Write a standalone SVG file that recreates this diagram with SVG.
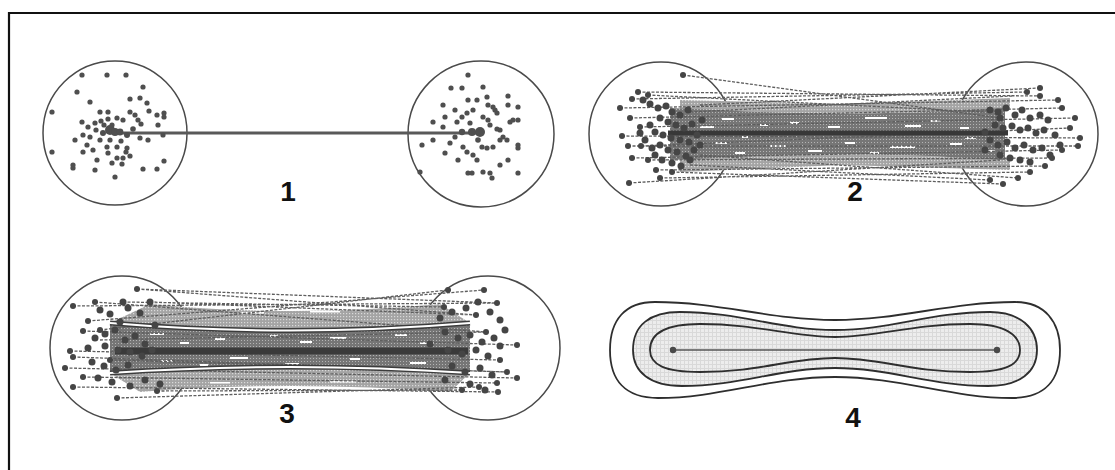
<svg xmlns="http://www.w3.org/2000/svg" width="1115" height="470" viewBox="0 0 1115 470">
<style>
.circ{fill:none;stroke:#4a4a4a;stroke-width:1.5}
.d1 circle{fill:#4f4f4f}
.fan{stroke:#5e5e5e;stroke-width:1.3;stroke-dasharray:3 1.5;fill:none}
.blob circle{fill:#454545}
.wd{fill:#ffffff}
.lbl{font-family:"Liberation Sans",Arial,sans-serif;font-weight:bold;font-size:28px;fill:#111;text-anchor:middle}
.cont{fill:none;stroke:#2e2e2e;stroke-width:1.8}
</style>
<defs>
<pattern id="scrDark" width="3" height="3" patternUnits="userSpaceOnUse"><rect width="3" height="3" fill="#767676"/><rect x="1" y="1" width="1" height="1" fill="#b4b4b4"/></pattern>
<pattern id="scrMid" width="3" height="3" patternUnits="userSpaceOnUse"><rect width="3" height="3" fill="#a4a4a4"/><rect x="1" y="1" width="1.2" height="1.2" fill="#dadada"/></pattern>
<pattern id="scrLight" width="4" height="4" patternUnits="userSpaceOnUse"><rect width="4" height="4" fill="#ededed"/><rect width="4" height="1" fill="#d9d9d9"/><rect width="1" height="4" fill="#d9d9d9"/></pattern>
</defs>
<rect width="1115" height="470" fill="#ffffff"/>
<path d="M9,470 V13 H1115" fill="none" stroke="#111" stroke-width="2.2"/>

<!-- Panel 1 -->
<g id="panel1">
<circle class="circ" cx="115" cy="133" r="72"/>
<circle class="circ" cx="481" cy="134" r="73"/>
<g id="connectors1"><line x1="122" y1="133" x2="478" y2="133" stroke="#595959" stroke-width="3"/></g>
<g class="d1">
<circle cx="82" cy="75" r="2.6"/><circle cx="107" cy="75" r="2.6"/><circle cx="126" cy="75" r="2.6"/><circle cx="77" cy="92" r="2.6"/><circle cx="143" cy="87" r="2.6"/><circle cx="90" cy="102" r="2.6"/><circle cx="52" cy="112" r="2.6"/><circle cx="130" cy="99" r="2.6"/><circle cx="140" cy="98" r="2.6"/><circle cx="147" cy="103" r="2.6"/><circle cx="149" cy="111" r="2.6"/><circle cx="157" cy="115" r="2.6"/><circle cx="164" cy="113" r="2.6"/><circle cx="164" cy="117" r="2.6"/><circle cx="100" cy="112" r="2.6"/><circle cx="108" cy="112" r="2.6"/><circle cx="130" cy="112" r="2.6"/><circle cx="82" cy="122" r="2.6"/><circle cx="88" cy="127" r="2.6"/><circle cx="95" cy="123" r="2.6"/><circle cx="101" cy="121" r="2.6"/><circle cx="108" cy="119" r="2.6"/><circle cx="117" cy="118" r="2.6"/><circle cx="123" cy="120" r="2.6"/><circle cx="138" cy="120" r="2.6"/><circle cx="141" cy="124" r="2.6"/><circle cx="158" cy="125" r="2.6"/><circle cx="110" cy="130" r="5"/><circle cx="115" cy="132" r="4"/><circle cx="120" cy="132" r="3.4"/><circle cx="127" cy="135" r="3"/><circle cx="140" cy="138" r="2.6"/><circle cx="148" cy="140" r="2.6"/><circle cx="163" cy="135" r="2.6"/><circle cx="75" cy="140" r="2.6"/><circle cx="83" cy="135" r="2.6"/><circle cx="90" cy="137" r="2.6"/><circle cx="100" cy="140" r="2.6"/><circle cx="107" cy="147" r="2.6"/><circle cx="117" cy="147" r="2.6"/><circle cx="127" cy="148" r="2.6"/><circle cx="52" cy="152" r="2.6"/><circle cx="83" cy="152" r="2.6"/><circle cx="93" cy="150" r="2.6"/><circle cx="97" cy="160" r="2.6"/><circle cx="108" cy="153" r="2.6"/><circle cx="117" cy="158" r="2.6"/><circle cx="123" cy="158" r="2.6"/><circle cx="130" cy="156" r="2.6"/><circle cx="73" cy="165" r="2.6"/><circle cx="73" cy="168" r="2.6"/><circle cx="95" cy="170" r="2.6"/><circle cx="115" cy="177" r="2.6"/><circle cx="143" cy="169" r="2.6"/><circle cx="157" cy="169" r="2.6"/><circle cx="164" cy="161" r="2.6"/><circle cx="110" cy="140" r="2.6"/><circle cx="112" cy="125" r="2.6"/><circle cx="103" cy="133" r="3"/><circle cx="96" cy="130" r="2.6"/><circle cx="121" cy="141" r="2.6"/><circle cx="133" cy="129" r="2.8"/><circle cx="135" cy="115" r="2.6"/><circle cx="112" cy="163" r="2.6"/><circle cx="122" cy="164" r="2.6"/><circle cx="87" cy="145" r="2.6"/><circle cx="126" cy="152" r="2.6"/><circle cx="104" cy="125" r="2.6"/>
<circle cx="468" cy="75" r="2.6"/><circle cx="451" cy="88" r="2.6"/><circle cx="462" cy="88" r="2.6"/><circle cx="483" cy="87" r="2.6"/><circle cx="468" cy="100" r="2.6"/><circle cx="477" cy="100" r="2.6"/><circle cx="487" cy="97" r="2.6"/><circle cx="508" cy="96" r="2.6"/><circle cx="508" cy="105" r="2.6"/><circle cx="518" cy="107" r="2.6"/><circle cx="443" cy="105" r="2.6"/><circle cx="488" cy="105" r="2.6"/><circle cx="493" cy="107" r="2.6"/><circle cx="497" cy="113" r="2.6"/><circle cx="495" cy="110" r="2.6"/><circle cx="473" cy="110" r="2.6"/><circle cx="467" cy="113" r="2.6"/><circle cx="462" cy="117" r="2.6"/><circle cx="457" cy="122" r="2.6"/><circle cx="445" cy="117" r="2.6"/><circle cx="433" cy="122" r="2.6"/><circle cx="443" cy="127" r="2.6"/><circle cx="483" cy="117" r="2.6"/><circle cx="488" cy="120" r="2.6"/><circle cx="500" cy="130" r="2.6"/><circle cx="503" cy="137" r="2.6"/><circle cx="510" cy="122" r="2.6"/><circle cx="518" cy="120" r="2.6"/><circle cx="513" cy="120" r="2.6"/><circle cx="462" cy="132" r="3.2"/><circle cx="472" cy="132" r="4"/><circle cx="480" cy="132" r="5"/><circle cx="422" cy="145" r="2.6"/><circle cx="433" cy="140" r="2.6"/><circle cx="450" cy="143" r="2.6"/><circle cx="463" cy="147" r="2.6"/><circle cx="467" cy="152" r="2.6"/><circle cx="473" cy="155" r="2.6"/><circle cx="482" cy="147" r="2.6"/><circle cx="487" cy="148" r="2.6"/><circle cx="493" cy="147" r="2.6"/><circle cx="500" cy="140" r="2.6"/><circle cx="507" cy="140" r="2.6"/><circle cx="518" cy="145" r="2.6"/><circle cx="518" cy="148" r="2.6"/><circle cx="445" cy="153" r="2.6"/><circle cx="477" cy="160" r="2.6"/><circle cx="508" cy="160" r="2.6"/><circle cx="500" cy="165" r="2.6"/><circle cx="468" cy="173" r="2.6"/><circle cx="472" cy="173" r="2.6"/><circle cx="483" cy="172" r="2.6"/><circle cx="490" cy="173" r="2.6"/><circle cx="492" cy="178" r="2.6"/><circle cx="518" cy="173" r="2.6"/><circle cx="420" cy="172" r="2.6"/><circle cx="497" cy="129" r="2.6"/><circle cx="455" cy="137" r="2.6"/><circle cx="478" cy="140" r="2.8"/><circle cx="490" cy="125" r="2.6"/><circle cx="458" cy="160" r="2.6"/><circle cx="470" cy="123" r="2.6"/><circle cx="455" cy="110" r="2.6"/>
</g>
<text class="lbl" x="288" y="201">1</text>
</g>

<!-- Panel 2 -->
<g id="panel2">
<circle class="circ" cx="661" cy="134" r="72"/>
<circle class="circ" cx="1026" cy="134" r="72"/>
<path d="M680,100 L843,104 L1010,98 L1010,110 L843,114 L680,110 Z" fill="url(#scrMid)"/>
<path d="M680,158 L843,154 L1010,158 L1010,170 L843,165 L680,172 Z" fill="url(#scrMid)"/>
<path d="M670,108 L760,112 L843,114 L930,112 L1005,108 L1005,160 L930,156 L843,154 L760,156 L670,160 Z" fill="url(#scrDark)"/>
<g class="wd">
<rect x="722" y="118" width="12" height="2"/><rect x="790" y="122" width="9" height="2"/><rect x="865" y="117" width="22" height="2"/><rect x="930" y="120" width="10" height="2"/><rect x="700" y="126" width="14" height="2"/><rect x="760" y="124" width="8" height="2"/><rect x="828" y="126" width="12" height="2"/><rect x="905" y="125" width="16" height="2"/><rect x="960" y="127" width="9" height="2"/><rect x="715" y="142" width="12" height="2"/><rect x="770" y="145" width="16" height="2"/><rect x="845" y="142" width="10" height="2"/><rect x="890" y="146" width="25" height="2"/><rect x="950" y="143" width="12" height="2"/><rect x="735" y="152" width="10" height="2"/><rect x="808" y="150" width="14" height="2"/><rect x="870" y="152" width="9" height="2"/><rect x="985" y="150" width="10" height="2"/><rect x="742" y="136" width="6" height="2"/><rect x="965" y="137" width="11" height="2"/>
</g>
<g id="connectors2">
<path class="fan" d="M683,75 L1000,118 M638,92 L1040,96 M632,99 L1027,92 M648,95 L985,112 M630,118 L1062,108 M640,127 L1075,118 M620,108 L1058,100 M622,136 L1080,138 M628,146 L1078,146 M641,146 L1070,128 M632,158 L1062,150 M648,160 L1052,158 M656,170 L1045,166 M629,183 L1000,160 M660,178 L1030,172 M672,172 L1003,184 M690,165 L990,180 M700,105 L1040,88 M690,112 L1012,96 M700,155 L1018,178"/>
<line x1="668" y1="133" x2="1008" y2="133" stroke="#383838" stroke-width="5"/>
</g>
<g class="blob">
<circle cx="683" cy="75" r="3"/><circle cx="638" cy="92" r="3"/><circle cx="632" cy="99" r="3"/><circle cx="648" cy="95" r="3"/><circle cx="630" cy="118" r="3"/><circle cx="640" cy="127" r="3"/><circle cx="620" cy="108" r="3"/><circle cx="622" cy="136" r="3"/><circle cx="628" cy="146" r="3"/><circle cx="641" cy="146" r="3"/><circle cx="632" cy="158" r="3"/><circle cx="648" cy="160" r="3"/><circle cx="656" cy="170" r="3"/><circle cx="629" cy="183" r="3"/><circle cx="660" cy="178" r="3"/><circle cx="672" cy="172" r="3"/>
<circle cx="1040" cy="96" r="3"/><circle cx="1027" cy="92" r="3"/><circle cx="1062" cy="108" r="3"/><circle cx="1075" cy="118" r="3"/><circle cx="1058" cy="100" r="3"/><circle cx="1080" cy="138" r="3"/><circle cx="1078" cy="146" r="3"/><circle cx="1070" cy="128" r="3"/><circle cx="1062" cy="150" r="3"/><circle cx="1052" cy="158" r="3"/><circle cx="1045" cy="166" r="3"/><circle cx="1030" cy="172" r="3"/><circle cx="1003" cy="184" r="3"/><circle cx="990" cy="180" r="3"/><circle cx="1040" cy="88" r="3"/><circle cx="1018" cy="178" r="3"/>
<circle cx="643" cy="100" r="3.5"/><circle cx="650" cy="104" r="3.5"/><circle cx="658" cy="108" r="3.5"/><circle cx="666" cy="106" r="3.5"/><circle cx="672" cy="112" r="3.5"/><circle cx="680" cy="115" r="3.5"/><circle cx="688" cy="110" r="3.5"/><circle cx="660" cy="118" r="3.5"/><circle cx="668" cy="122" r="3.5"/><circle cx="676" cy="125" r="3.5"/><circle cx="684" cy="128" r="3.5"/><circle cx="692" cy="124" r="3.5"/><circle cx="650" cy="125" r="3.5"/><circle cx="655" cy="132" r="3.5"/><circle cx="663" cy="135" r="3.5"/><circle cx="671" cy="138" r="3.5"/><circle cx="680" cy="140" r="3.5"/><circle cx="689" cy="142" r="3.5"/><circle cx="697" cy="135" r="3.5"/><circle cx="645" cy="140" r="3.5"/><circle cx="652" cy="148" r="3.5"/><circle cx="660" cy="145" r="3.5"/><circle cx="668" cy="150" r="3.5"/><circle cx="677" cy="152" r="3.5"/><circle cx="686" cy="156" r="3.5"/><circle cx="694" cy="150" r="3.5"/><circle cx="662" cy="160" r="3.5"/><circle cx="672" cy="163" r="3.5"/><circle cx="681" cy="166" r="3.5"/><circle cx="655" cy="155" r="3.5"/><circle cx="640" cy="133" r="3.5"/><circle cx="700" cy="145" r="3.5"/><circle cx="702" cy="120" r="3.5"/><circle cx="690" cy="160" r="3.5"/>
<circle cx="990" cy="110" r="3.5"/><circle cx="998" cy="112" r="3.5"/><circle cx="1006" cy="108" r="3.5"/><circle cx="1015" cy="115" r="3.5"/><circle cx="1022" cy="110" r="3.5"/><circle cx="1030" cy="118" r="3.5"/><circle cx="1040" cy="115" r="3.5"/><circle cx="1048" cy="120" r="3.5"/><circle cx="995" cy="125" r="3.5"/><circle cx="1003" cy="128" r="3.5"/><circle cx="1012" cy="126" r="3.5"/><circle cx="1020" cy="130" r="3.5"/><circle cx="1028" cy="128" r="3.5"/><circle cx="1036" cy="133" r="3.5"/><circle cx="1044" cy="130" r="3.5"/><circle cx="990" cy="140" r="3.5"/><circle cx="998" cy="145" r="3.5"/><circle cx="1007" cy="142" r="3.5"/><circle cx="1015" cy="148" r="3.5"/><circle cx="1024" cy="145" r="3.5"/><circle cx="1033" cy="150" r="3.5"/><circle cx="1042" cy="148" r="3.5"/><circle cx="1050" cy="155" r="3.5"/><circle cx="1000" cy="155" r="3.5"/><circle cx="1010" cy="158" r="3.5"/><circle cx="1020" cy="160" r="3.5"/><circle cx="1030" cy="162" r="3.5"/><circle cx="985" cy="150" r="3.5"/><circle cx="1055" cy="135" r="3.5"/><circle cx="1060" cy="145" r="3.5"/><circle cx="1000" cy="118" r="3.5"/><circle cx="985" cy="132" r="3.5"/>
</g>
<text class="lbl" x="855" y="201">2</text>
</g>

<!-- Panel 3 -->
<g id="panel3">
<circle class="circ" cx="122" cy="348" r="72"/>
<circle class="circ" cx="488" cy="348" r="72"/>
<path d="M150,304 Q290,318 440,304 L470,323 Q290,338 110,323 Z" fill="url(#scrMid)"/>
<path d="M110,373 Q290,361 470,373 L450,392 Q290,380 140,392 Z" fill="url(#scrMid)"/>
<path d="M110,323 Q290,338 470,323 L470,373 Q290,361 110,373 Z" fill="url(#scrDark)"/>
<g class="wd">
<rect x="150" y="333" width="14" height="2"/><rect x="215" y="338" width="10" height="2"/><rect x="270" y="335" width="8" height="2"/><rect x="330" y="337" width="16" height="2"/><rect x="395" y="334" width="12" height="2"/><rect x="180" y="342" width="9" height="2"/><rect x="300" y="341" width="12" height="2"/><rect x="420" y="342" width="14" height="2"/><rect x="160" y="360" width="12" height="2"/><rect x="230" y="357" width="18" height="2"/><rect x="350" y="358" width="10" height="2"/><rect x="410" y="362" width="16" height="2"/><rect x="200" y="364" width="8" height="2"/><rect x="285" y="363" width="14" height="2"/><rect x="240" y="312" width="24" height="1.5"/><rect x="310" y="311" width="30" height="1.5"/><rect x="210" y="382" width="20" height="1.5"/><rect x="330" y="381" width="26" height="1.5"/>
</g>
<g id="connectors3">
<path class="fan" d="M137,289 L476,315 M73,306 L497,303 M95,302 L486,332 M123,302 L444,307 M88,321 L484,290 M100,330 L448,290 M83,331 L517,345 M70,351 L500,360 M73,357 L507,372 M65,368 L517,378 M83,377 L497,383 M73,387 L498,392 M117,398 L479,387 M157,391 L462,390 M150,302 L476,315 M137,289 L497,303 M100,340 L486,332 M110,360 L507,372"/>
<line x1="115" y1="351" x2="468" y2="351" stroke="#3a3a3a" stroke-width="7"/>
<path d="M110,323 Q290,338 470,323 M110,373 Q290,361 470,373" fill="none" stroke="#3c3c3c" stroke-width="5"/>
<path d="M110,323 Q290,338 470,323 M110,373 Q290,361 470,373" fill="none" stroke="#ffffff" stroke-width="2"/>
</g>
<g class="blob">
<circle cx="137" cy="289" r="3"/><circle cx="73" cy="306" r="3"/><circle cx="95" cy="302" r="3"/><circle cx="123" cy="302" r="3.5"/><circle cx="150" cy="302" r="3.5"/><circle cx="88" cy="321" r="3"/><circle cx="83" cy="331" r="3"/><circle cx="70" cy="351" r="3"/><circle cx="73" cy="357" r="3"/><circle cx="65" cy="368" r="3"/><circle cx="83" cy="377" r="3"/><circle cx="73" cy="387" r="3"/><circle cx="117" cy="398" r="3"/><circle cx="157" cy="391" r="3"/><circle cx="100" cy="330" r="3"/><circle cx="110" cy="360" r="3"/>
<circle cx="448" cy="290" r="3"/><circle cx="484" cy="290" r="3"/><circle cx="497" cy="303" r="3"/><circle cx="444" cy="307" r="3"/><circle cx="476" cy="315" r="3"/><circle cx="486" cy="332" r="3"/><circle cx="517" cy="345" r="3"/><circle cx="500" cy="360" r="3"/><circle cx="507" cy="372" r="3"/><circle cx="517" cy="378" r="3"/><circle cx="497" cy="383" r="3"/><circle cx="498" cy="392" r="3"/><circle cx="479" cy="387" r="3"/><circle cx="462" cy="390" r="3"/>
<circle cx="100" cy="310" r="3.5"/><circle cx="110" cy="314" r="3.5"/><circle cx="128" cy="308" r="3.5"/><circle cx="140" cy="313" r="3.5"/><circle cx="95" cy="338" r="3.5"/><circle cx="105" cy="334" r="3.5"/><circle cx="115" cy="330" r="3.5"/><circle cx="125" cy="340" r="3.5"/><circle cx="135" cy="336" r="3.5"/><circle cx="145" cy="344" r="3.5"/><circle cx="105" cy="346" r="3.5"/><circle cx="118" cy="350" r="3.5"/><circle cx="130" cy="352" r="3.5"/><circle cx="142" cy="356" r="3.5"/><circle cx="152" cy="350" r="3.5"/><circle cx="92" cy="362" r="3.5"/><circle cx="104" cy="366" r="3.5"/><circle cx="116" cy="370" r="3.5"/><circle cx="128" cy="365" r="3.5"/><circle cx="98" cy="378" r="3.5"/><circle cx="112" cy="382" r="3.5"/><circle cx="130" cy="386" r="3.5"/><circle cx="145" cy="380" r="3.5"/><circle cx="160" cy="384" r="3.5"/><circle cx="88" cy="348" r="3.5"/><circle cx="120" cy="322" r="3.5"/><circle cx="155" cy="325" r="3.5"/>
<circle cx="440" cy="318" r="3.5"/><circle cx="452" cy="312" r="3.5"/><circle cx="466" cy="308" r="3.5"/><circle cx="478" cy="302" r="3.5"/><circle cx="490" cy="312" r="3.5"/><circle cx="500" cy="320" r="3.5"/><circle cx="445" cy="332" r="3.5"/><circle cx="458" cy="338" r="3.5"/><circle cx="470" cy="335" r="3.5"/><circle cx="482" cy="342" r="3.5"/><circle cx="494" cy="338" r="3.5"/><circle cx="505" cy="330" r="3.5"/><circle cx="448" cy="350" r="3.5"/><circle cx="462" cy="354" r="3.5"/><circle cx="476" cy="350" r="3.5"/><circle cx="488" cy="356" r="3.5"/><circle cx="452" cy="366" r="3.5"/><circle cx="465" cy="372" r="3.5"/><circle cx="480" cy="368" r="3.5"/><circle cx="492" cy="375" r="3.5"/><circle cx="445" cy="380" r="3.5"/><circle cx="470" cy="384" r="3.5"/><circle cx="485" cy="390" r="3.5"/><circle cx="430" cy="344" r="3.5"/><circle cx="500" cy="346" r="3.5"/>
</g>
<text class="lbl" x="287" y="423">3</text>
</g>

<!-- Panel 4 -->
<g id="panel4">
<path class="cont" d="M610,350 C610,320 625,302 655,302 C720,302 770,320 835,320 C900,320 950,302 1015,302 C1045,302 1060,322 1060,350 C1060,380 1045,398 1012,398 C950,398 900,377 835,377 C770,377 720,398 658,398 C625,398 610,380 610,350 Z"/>
<path class="cont" style="fill:url(#scrLight)" d="M633,350 C633,325 650,312 680,312 C740,312 780,330 835,330 C890,330 930,312 990,312 C1020,312 1037,328 1037,350 C1037,372 1020,386 988,386 C930,386 890,368 835,368 C780,368 740,386 682,386 C650,386 633,372 633,350 Z"/>
<path class="cont" d="M650,350 C650,333 665,324 700,324 C760,324 790,337 835,337 C880,337 910,324 970,324 C1005,324 1020,335 1020,350 C1020,365 1005,372 970,372 C910,372 880,358 835,358 C790,358 760,372 700,372 C665,372 650,365 650,350 Z"/>
<g id="connectors4"><line x1="673" y1="350" x2="997" y2="350" stroke="#555" stroke-width="1.5"/></g>
<circle cx="673" cy="350" r="3.2" fill="#4a4a4a"/>
<circle cx="997" cy="350" r="3.2" fill="#4a4a4a"/>
<text class="lbl" x="853" y="427">4</text>
</g>
</svg>
